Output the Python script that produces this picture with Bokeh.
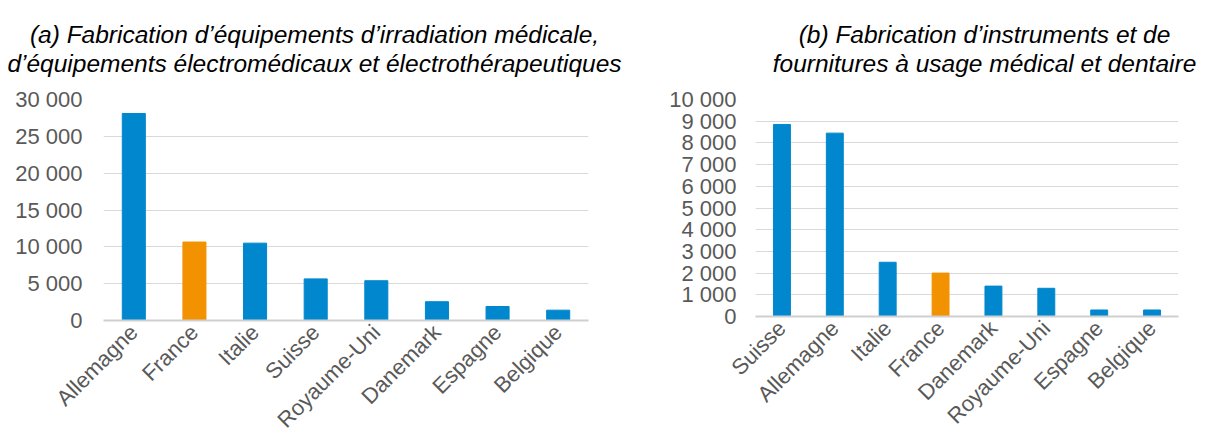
import math
from bokeh.plotting import figure
from bokeh.models import FactorRange, Range1d, FixedTicker, ColumnDataSource
from bokeh.core.properties import value
from bokeh.layouts import row, column
from bokeh.embed import file_html
from bokeh.resources import INLINE

# ---- data ----
cats_a = ["Allemagne", "France", "Italie", "Suisse", "Royaume-Uni", "Danemark", "Espagne", "Belgique"]
vals_a = [28100, 10650, 10500, 5650, 5400, 2550, 1900, 1400]
title_a = ["(a) Fabrication d’équipements d’irradiation médicale,",
           "d’équipements électromédicaux et électrothérapeutiques"]
ticks_a = [0, 5000, 10000, 15000, 20000, 25000, 30000]

cats_b = ["Suisse", "Allemagne", "Italie", "France", "Danemark", "Royaume-Uni", "Espagne", "Belgique"]
vals_b = [8850, 8450, 2500, 2000, 1400, 1300, 300, 300]
title_b = ["(b) Fabrication d’instruments et de",
           "fournitures à usage médical et dentaire"]
ticks_b = [0, 1000, 2000, 3000, 4000, 5000, 6000, 7000, 8000, 9000, 10000]

highlight = "France"
BLUE = "#0087CD"
ORANGE = "#F39200"
FONT = "Liberation Sans"
TICK_COLOR = "#595959"
TITLE_H = 80
TOTAL_H = 444
TOTAL_W = 1208
W_A = 628
W_B = TOTAL_W - W_A


def fmt(v):
    return f"{v:,}".replace(",", " ")


def make_titles():
    t = figure(x_range=Range1d(0, TOTAL_W), y_range=Range1d(0, TITLE_H),
               width=TOTAL_W, height=TITLE_H, output_backend="svg", toolbar_location=None,
               x_axis_location=None, y_axis_location=None, min_border=0)
    t.outline_line_color = None
    t.grid.grid_line_color = None
    t.background_fill_color = "white"
    t.border_fill_color = "white"
    xs = [314, 314, W_A + 356, W_A + 356]
    ys = [TITLE_H - 34, TITLE_H - 63, TITLE_H - 34, TITLE_H - 63]
    src = ColumnDataSource(dict(x=xs, y=ys, text=title_a + title_b))
    t.text(x="x", y="y", text="text", source=src, text_align="center",
           text_baseline="alphabetic", text_font=value(FONT), text_font_style="italic",
           text_font_size="24.5px", text_color="black")
    return t


def make_chart(cats, vals, ticks, width, bl, br, bt, bb, bar_w, ystand):
    colors = [ORANGE if c == highlight else BLUE for c in cats]
    src = ColumnDataSource(dict(cat=cats, val=vals, color=colors))
    p = figure(x_range=FactorRange(*cats, range_padding=0),
               y_range=Range1d(0, ticks[-1]),
               width=width, height=TOTAL_H - TITLE_H,
               output_backend="svg", toolbar_location=None,
               min_border_left=bl, min_border_right=br,
               min_border_top=bt, min_border_bottom=bb)
    p.vbar(x="cat", top="val", width=bar_w, color="color", source=src)
    p.outline_line_color = None
    p.background_fill_color = "white"
    p.border_fill_color = "white"

    p.xgrid.grid_line_color = None
    p.ygrid.grid_line_color = "#D9D9D9"
    p.ygrid.grid_line_width = 1
    p.yaxis.ticker = FixedTicker(ticks=ticks)
    p.yaxis.major_label_overrides = {t: fmt(t) for t in ticks}
    p.yaxis.axis_line_color = None
    p.yaxis.major_tick_line_color = None
    p.yaxis.minor_tick_line_color = None
    p.yaxis.major_label_standoff = ystand
    p.yaxis.major_label_text_font = FONT
    p.yaxis.major_label_text_font_size = "22px"
    p.yaxis.major_label_text_color = TICK_COLOR

    p.xaxis.axis_line_color = "#CFCFCF"
    p.xaxis.axis_line_width = 2
    p.xaxis.major_tick_line_color = None
    p.xaxis.minor_tick_line_color = None
    p.xaxis.major_label_orientation = math.pi / 4
    p.xaxis.major_label_standoff = 2
    p.xaxis.major_label_text_font = FONT
    p.xaxis.major_label_text_font_size = "22px"
    p.xaxis.major_label_text_color = TICK_COLOR
    return p


titles = make_titles()
p1 = make_chart(cats_a, vals_a, ticks_a, W_A, 103, 40, 19, 20, 0.38, 15)
p2 = make_chart(cats_b, vals_b, ticks_b, W_B, 127, 30, 19, 128, 0.32, 13)

layout = column(titles, row(column(p1), column(p2), spacing=0), spacing=0)
open("out.html", "w").write(file_html(layout, INLINE))
